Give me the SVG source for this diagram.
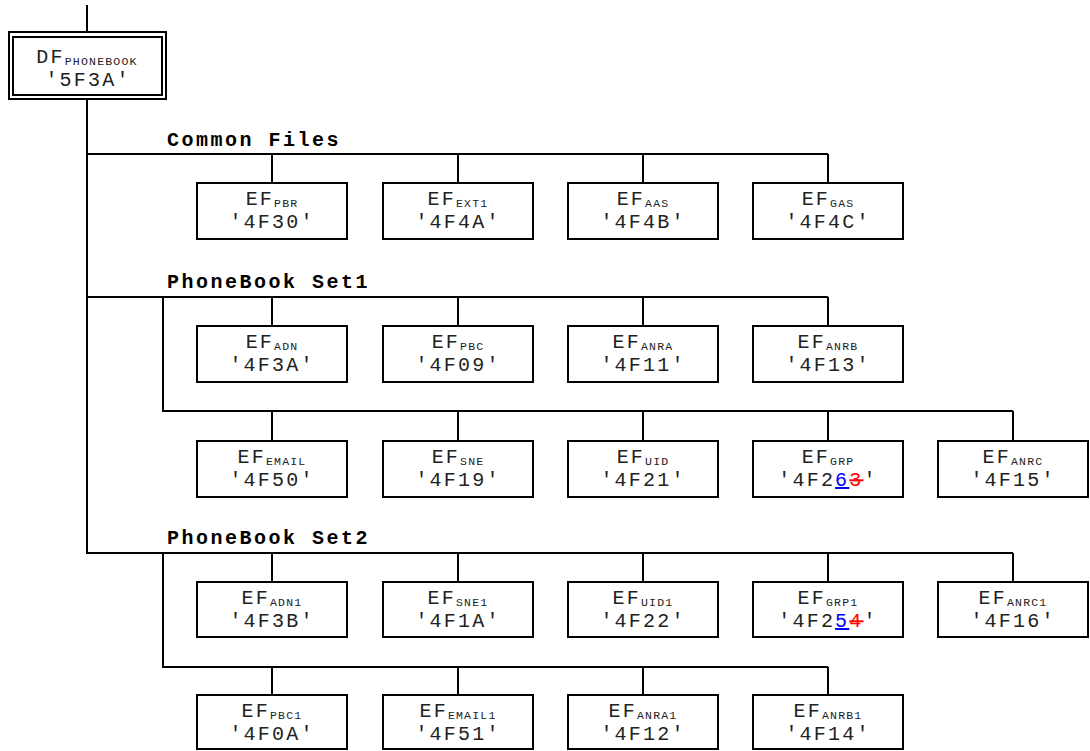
<svg xmlns="http://www.w3.org/2000/svg" width="1090" height="751" viewBox="0 0 1090 751">
<style>
.box{fill:#fff;stroke:#000;stroke-width:2}
.conn{stroke:#000;stroke-width:2;fill:none}
.t{font-family:"Liberation Mono",monospace;font-size:20px;letter-spacing:2.2px;text-anchor:middle;fill:#222}
.sub{font-size:11.5px;letter-spacing:1.2px}
.lbl{font-family:"Liberation Mono",monospace;font-size:20px;font-weight:bold;letter-spacing:2.5px;fill:#000}
</style>
<rect width="1090" height="751" fill="#fff"/>
<g id="connectors">
<path class="conn" d="M87,5V32M87,99V553H1013M87,154H828M272,154V183M458,154V183M643,154V183M828,154V183"/>
<path class="conn" d="M87,297H828M272,297V326M458,297V326M643,297V326M828,297V326M163,297V411H1013M272,411V441M458,411V441M643,411V441M828,411V441M1013,411V441"/>
<path class="conn" d="M272,553V582M458,553V582M643,553V582M828,553V582M1013,553V582M163,553V667H828M272,667V695M458,667V695M643,667V695M828,667V695"/>
</g>
<g id="labels">
<text class="lbl" x="167" y="146">Common Files</text>
<text class="lbl" x="167" y="288">PhoneBook Set1</text>
<text class="lbl" x="167" y="544">PhoneBook Set2</text>
</g>
<g id="df_phonebook">
<rect x="9" y="32" width="157" height="67" fill="#fff" stroke="#000" stroke-width="2"/>
<rect x="13" y="37" width="149" height="58" fill="none" stroke="#000" stroke-width="2"/>
<text class="t" x="87" y="63">DF<tspan class="sub" dy="2">PHONEBOOK</tspan></text>
<text class="t" x="88" y="86">'5F3A'</text>
</g>
<g id="ef_pbr"><rect class="box" x="197" y="183" width="150" height="56"/><text class="t" x="272" y="205">EF<tspan class="sub" dy="2">PBR</tspan></text><text class="t" x="272" y="228">'4F30'</text></g>
<g id="ef_ext1"><rect class="box" x="383" y="183" width="150" height="56"/><text class="t" x="458" y="205">EF<tspan class="sub" dy="2">EXT1</tspan></text><text class="t" x="458" y="228">'4F4A'</text></g>
<g id="ef_aas"><rect class="box" x="568" y="183" width="150" height="56"/><text class="t" x="643" y="205">EF<tspan class="sub" dy="2">AAS</tspan></text><text class="t" x="643" y="228">'4F4B'</text></g>
<g id="ef_gas"><rect class="box" x="753" y="183" width="150" height="56"/><text class="t" x="828" y="205">EF<tspan class="sub" dy="2">GAS</tspan></text><text class="t" x="828" y="228">'4F4C'</text></g>
<g id="ef_adn"><rect class="box" x="197" y="326" width="150" height="56"/><text class="t" x="272" y="348">EF<tspan class="sub" dy="2">ADN</tspan></text><text class="t" x="272" y="371">'4F3A'</text></g>
<g id="ef_pbc"><rect class="box" x="383" y="326" width="150" height="56"/><text class="t" x="458" y="348">EF<tspan class="sub" dy="2">PBC</tspan></text><text class="t" x="458" y="371">'4F09'</text></g>
<g id="ef_anra"><rect class="box" x="568" y="326" width="150" height="56"/><text class="t" x="643" y="348">EF<tspan class="sub" dy="2">ANRA</tspan></text><text class="t" x="643" y="371">'4F11'</text></g>
<g id="ef_anrb"><rect class="box" x="753" y="326" width="150" height="56"/><text class="t" x="828" y="348">EF<tspan class="sub" dy="2">ANRB</tspan></text><text class="t" x="828" y="371">'4F13'</text></g>
<g id="ef_email"><rect class="box" x="197" y="441" width="150" height="56"/><text class="t" x="272" y="463">EF<tspan class="sub" dy="2">EMAIL</tspan></text><text class="t" x="272" y="486">'4F50'</text></g>
<g id="ef_sne"><rect class="box" x="383" y="441" width="150" height="56"/><text class="t" x="458" y="463">EF<tspan class="sub" dy="2">SNE</tspan></text><text class="t" x="458" y="486">'4F19'</text></g>
<g id="ef_uid"><rect class="box" x="568" y="441" width="150" height="56"/><text class="t" x="643" y="463">EF<tspan class="sub" dy="2">UID</tspan></text><text class="t" x="643" y="486">'4F21'</text></g>
<g id="ef_grp"><rect class="box" x="753" y="441" width="150" height="56"/><text class="t" x="828" y="463">EF<tspan class="sub" dy="2">GRP</tspan></text><text class="t" x="828" y="486">'4F2<tspan fill="#0000ff" text-decoration="underline">6</tspan><tspan fill="#ff0000" text-decoration="line-through">3</tspan>'</text></g>
<g id="ef_anrc"><rect class="box" x="938" y="441" width="150" height="56"/><text class="t" x="1013" y="463">EF<tspan class="sub" dy="2">ANRC</tspan></text><text class="t" x="1013" y="486">'4F15'</text></g>
<g id="ef_adn1"><rect class="box" x="197" y="582" width="150" height="55"/><text class="t" x="272" y="604">EF<tspan class="sub" dy="2">ADN1</tspan></text><text class="t" x="272" y="627">'4F3B'</text></g>
<g id="ef_sne1"><rect class="box" x="383" y="582" width="150" height="55"/><text class="t" x="458" y="604">EF<tspan class="sub" dy="2">SNE1</tspan></text><text class="t" x="458" y="627">'4F1A'</text></g>
<g id="ef_uid1"><rect class="box" x="568" y="582" width="150" height="55"/><text class="t" x="643" y="604">EF<tspan class="sub" dy="2">UID1</tspan></text><text class="t" x="643" y="627">'4F22'</text></g>
<g id="ef_grp1"><rect class="box" x="753" y="582" width="150" height="55"/><text class="t" x="828" y="604">EF<tspan class="sub" dy="2">GRP1</tspan></text><text class="t" x="828" y="627">'4F2<tspan fill="#0000ff" text-decoration="underline">5</tspan><tspan fill="#ff0000" text-decoration="line-through">4</tspan>'</text></g>
<g id="ef_anrc1"><rect class="box" x="938" y="582" width="150" height="55"/><text class="t" x="1013" y="604">EF<tspan class="sub" dy="2">ANRC1</tspan></text><text class="t" x="1013" y="627">'4F16'</text></g>
<g id="ef_pbc1"><rect class="box" x="197" y="695" width="150" height="54"/><text class="t" x="272" y="717">EF<tspan class="sub" dy="2">PBC1</tspan></text><text class="t" x="272" y="740">'4F0A'</text></g>
<g id="ef_email1"><rect class="box" x="383" y="695" width="150" height="54"/><text class="t" x="458" y="717">EF<tspan class="sub" dy="2">EMAIL1</tspan></text><text class="t" x="458" y="740">'4F51'</text></g>
<g id="ef_anra1"><rect class="box" x="568" y="695" width="150" height="54"/><text class="t" x="643" y="717">EF<tspan class="sub" dy="2">ANRA1</tspan></text><text class="t" x="643" y="740">'4F12'</text></g>
<g id="ef_anrb1"><rect class="box" x="753" y="695" width="150" height="54"/><text class="t" x="828" y="717">EF<tspan class="sub" dy="2">ANRB1</tspan></text><text class="t" x="828" y="740">'4F14'</text></g>
</svg>
